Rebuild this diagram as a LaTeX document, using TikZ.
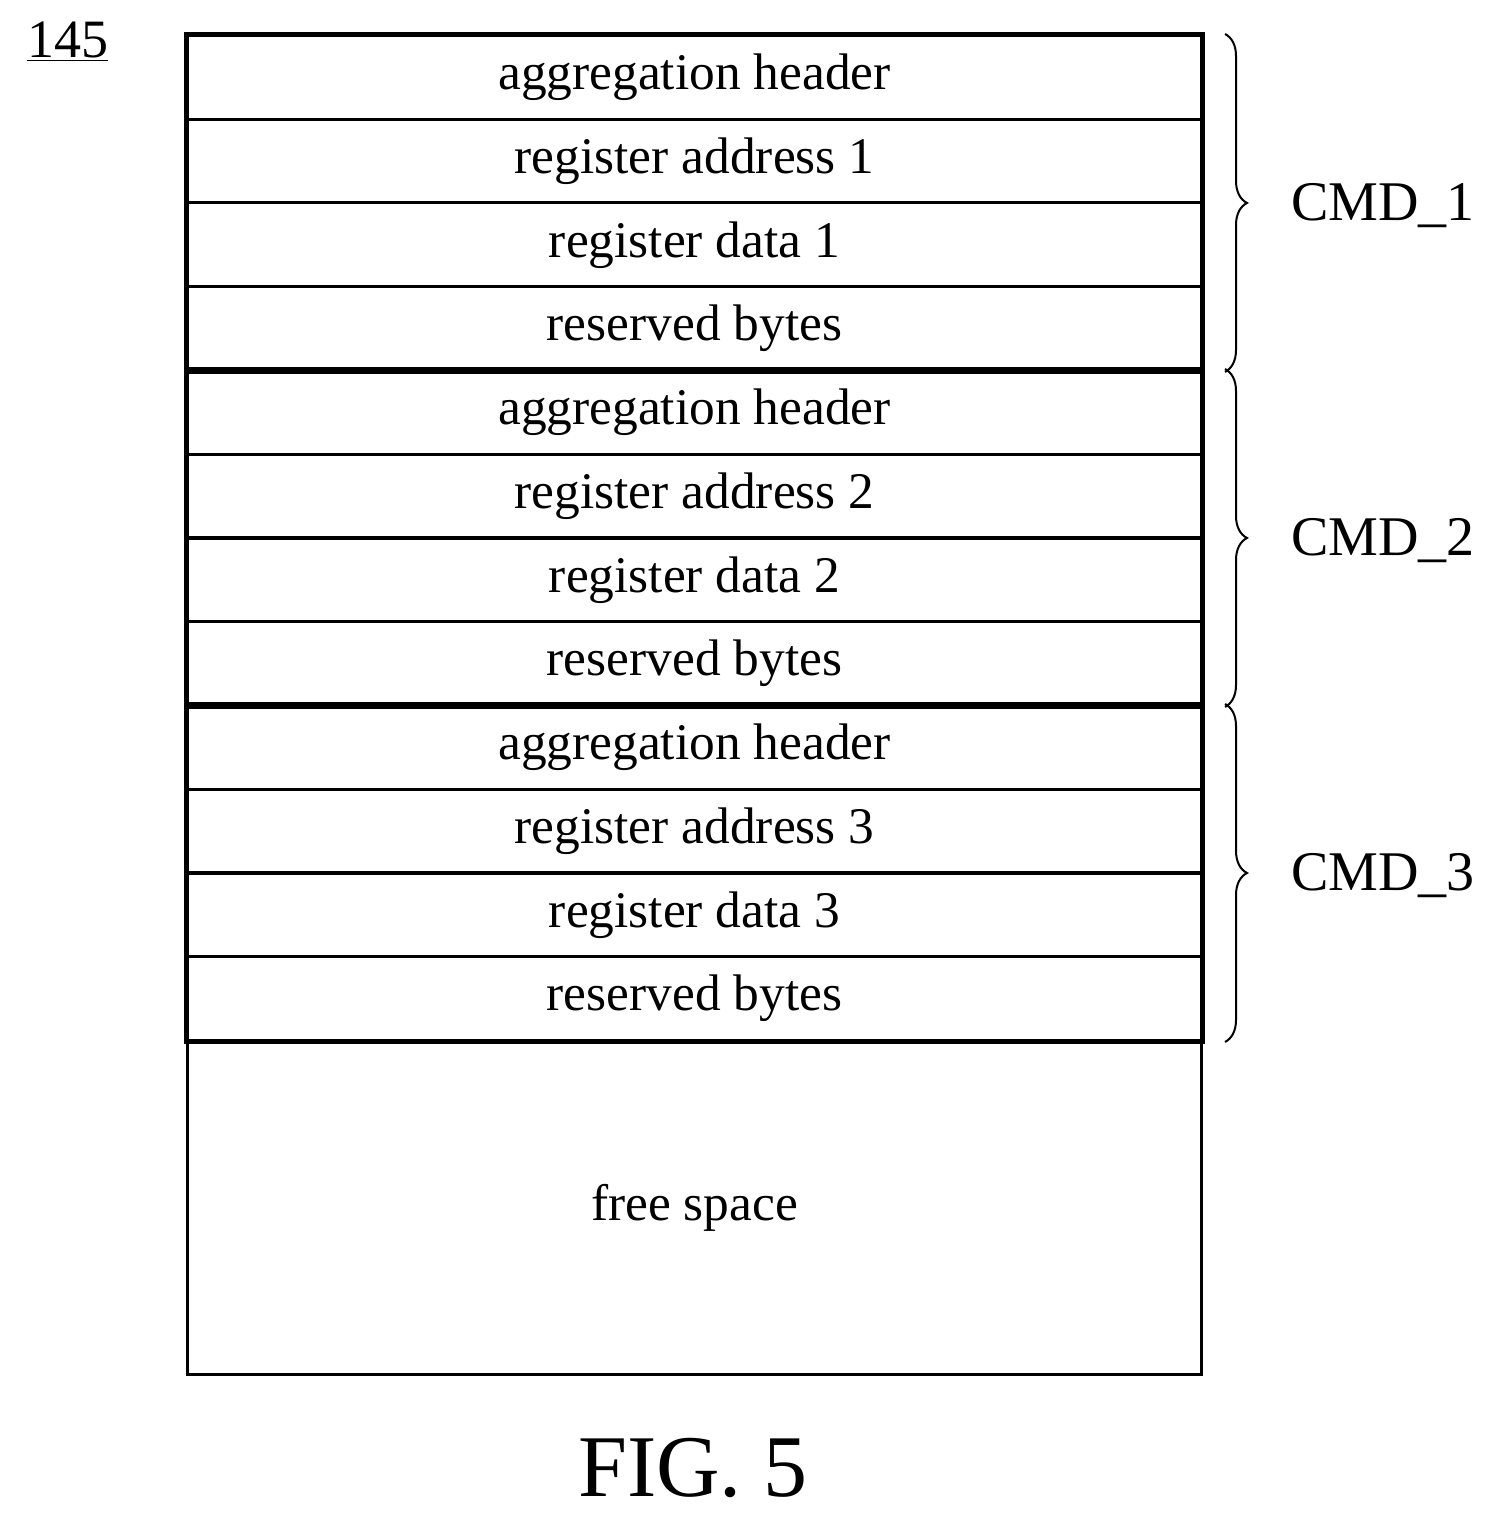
\documentclass[tikz,border=0pt]{standalone}
\usepackage{fontspec}
\setmainfont{Liberation Serif}
\usetikzlibrary{decorations.pathreplacing}
\begin{document}
\begin{tikzpicture}[x=0.5pt,y=-0.5pt,
  cell/.style={draw,line width=1.5pt,minimum width=507pt,minimum height=41.85pt,inner sep=0pt,anchor=north west,font=\fontsize{25.7}{28}\selectfont},
  grp/.style={draw,line width=2.2pt},
  br/.style={decorate,decoration={brace,amplitude=11pt},line width=1pt},
  lab/.style={anchor=west,font=\fontsize{28}{30}\selectfont}]
\useasboundingbox (0,0) rectangle (1497,1518);
\node[anchor=west,font=\fontsize{27}{29}\selectfont] (num) at (20,42) {\underline{145}};
\foreach \g/\n in {0/1,1/2,2/3}{
  \pgfmathsetmacro{\yy}{34+\g*335}
  \node[cell] (h\n) at (186,\yy) {aggregation header};
  \node[cell] (a\n) at (186,\yy+83.75) {register address \n};
  \node[cell] (d\n) at (186,\yy+167.5) {register data \n};
  \node[cell] (r\n) at (186,\yy+251.25) {reserved bytes};
  \draw[grp] (h\n.north west) rectangle (r\n.south east);
  \draw[br] ([xshift=11pt]h\n.north east) -- ([xshift=11pt]r\n.south east);
  \node[lab] (c\n) at (1284,\yy+172) {CMD\_\n};
}
\node[draw,line width=1.5pt,minimum width=507pt,minimum height=167pt,anchor=north west,font=\fontsize{25.7}{28}\selectfont] (free) at (186,1039) {free space};
\node[font=\fontsize{44}{46}\selectfont] (fig) at (693,1468) {FIG. 5};
\end{tikzpicture}
\end{document}
